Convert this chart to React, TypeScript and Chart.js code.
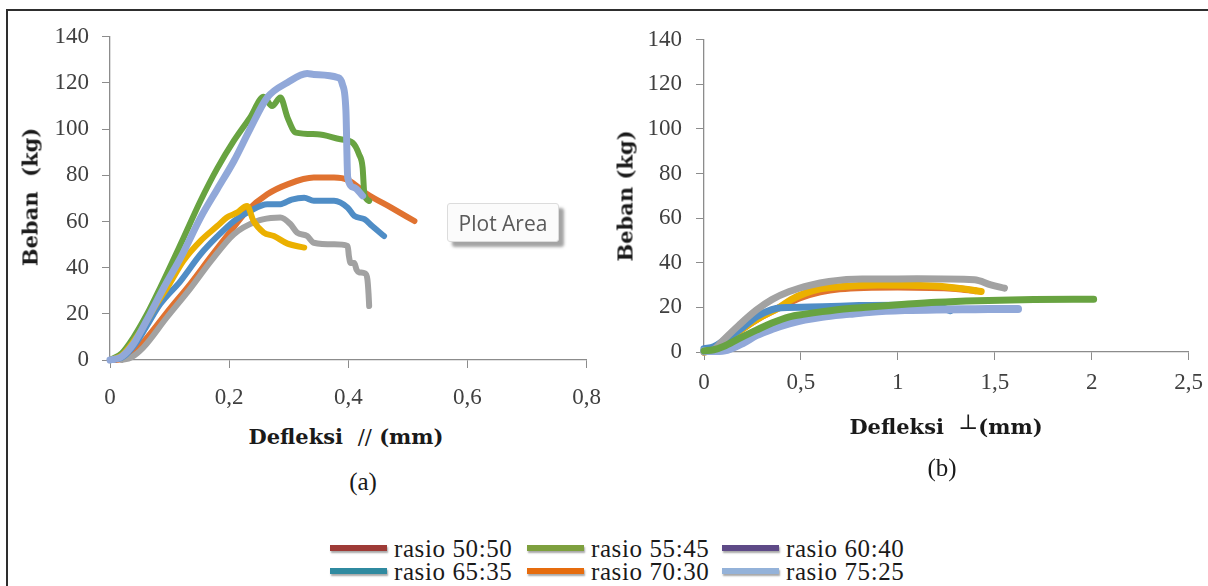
import React, { useEffect, useRef } from "react";
import { Chart, registerables } from "chart.js";
Chart.register(...registerables);

const seriesNames = ["rasio 50:50", "rasio 55:45", "rasio 60:40", "rasio 65:35", "rasio 70:30", "rasio 75:25"];
const lineColors = ["#E07230", "#68A341", "#A2A2A2", "#4F8DC6", "#EBB000", "#91A8D9"];
const legendColors = ["#9E3B37", "#7EA03E", "#5E4A87", "#2F8AA0", "#E66C0E", "#94B2D9"];

const yTicks = [0, 20, 40, 60, 80, 100, 120, 140];
const xTicksA = [0, 0.2, 0.4, 0.6, 0.8];
const xTicksB = [0, 0.5, 1, 1.5, 2, 2.5];

// Panel (a): Defleksi // (mm)
const a5050X = [0.01, 0.03, 0.06, 0.1, 0.135, 0.17, 0.2, 0.23, 0.264, 0.298, 0.342, 0.376, 0.399, 0.432, 0.472, 0.511];
const a5050Y = [0, 1, 9, 22, 33, 45, 55, 64.6, 71.8, 76.1, 79, 79, 78, 71.8, 66, 60.2];
const a5545X = [0, 0.02, 0.039, 0.062, 0.084, 0.12, 0.152, 0.18, 0.208, 0.235, 0.258, 0.272, 0.286, 0.298, 0.312, 0.348, 0.387, 0.407, 0.418, 0.424, 0.427, 0.435];
const a5545Y = [0, 3, 9.6, 19.8, 31.2, 51, 69, 83, 95, 105, 114, 110, 113.7, 105, 98.5, 97.8, 95.6, 94.2, 89.1, 83.3, 71.8, 68.9];
const a6040X = [0.02, 0.035, 0.056, 0.095, 0.135, 0.17, 0.208, 0.247, 0.27, 0.286, 0.303, 0.314, 0.331, 0.342, 0.376, 0.399, 0.401, 0.404, 0.41, 0.414, 0.418, 0.428, 0.432, 0.434, 0.435];
const a6040Y = [0, 1, 5.4, 18.3, 31, 43, 54.5, 60.2, 61.5, 61.7, 58.8, 55.2, 53.7, 50.8, 50.1, 49.4, 45, 42, 42, 39, 38, 37.5, 35, 28.5, 23.4];
const a6535X = [0, 0.02, 0.04, 0.06, 0.084, 0.118, 0.152, 0.18, 0.208, 0.235, 0.264, 0.286, 0.305, 0.326, 0.342, 0.376, 0.399, 0.41, 0.427, 0.44, 0.46];
const a6535Y = [0, 1, 6, 14, 24.1, 34.1, 45.8, 53.5, 60.2, 64.5, 67.5, 67.5, 69.5, 70.3, 69, 69, 66, 62.4, 61, 58, 53.7];
const a7030X = [0, 0.02, 0.05, 0.08, 0.1, 0.123, 0.152, 0.18, 0.196, 0.213, 0.23, 0.241, 0.258, 0.275, 0.298, 0.326];
const a7030Y = [0, 2, 12, 25, 33, 42.9, 51.6, 58, 61.7, 63.8, 66.7, 60.2, 55.2, 53.7, 50.4, 48.7];
const a7525X = [0, 0.01, 0.02, 0.039, 0.067, 0.09, 0.12, 0.152, 0.18, 0.208, 0.235, 0.264, 0.298, 0.331, 0.342, 0.382, 0.39, 0.396, 0.399, 0.41, 0.424];
const a7525Y = [0, 0.5, 1.5, 6.8, 19.8, 31.2, 45, 61.7, 74, 86.2, 100, 113.7, 120.2, 124.1, 123.7, 122.4, 119.5, 107.9, 79, 74.7, 71.1];

// Panel (b): Defleksi ⊥ (mm)
const b5050X = [0, 0.1, 0.2, 0.3, 0.4, 0.5, 0.7, 1.0, 1.3, 1.4];
const b5050Y = [0, 4, 10.5, 16, 20.5, 24.5, 28.3, 29.2, 28.5, 27.5];
const b5545X = [0, 0.05, 0.1, 0.18, 0.27, 0.35, 0.44, 0.52, 0.61, 0.75, 0.866, 1.037, 1.2, 1.41, 1.7, 2.01];
const b5545Y = [0.5, 1, 2.5, 6, 9.8, 13, 15.8, 17, 18.1, 19.5, 20.3, 21.4, 22.3, 23, 23.5, 23.7];
const b6040X = [0, 0.05, 0.099, 0.18, 0.27, 0.35, 0.44, 0.55, 0.645, 0.815, 0.9, 1.1, 1.395, 1.48, 1.55];
const b6040Y = [0, 1, 5.3, 12, 18.8, 23.5, 27.1, 30, 31.6, 32.7, 32.7, 32.8, 32.4, 30.1, 28.6];
const b6535X = [0, 0.05, 0.1, 0.2, 0.27, 0.35, 0.4, 0.61, 0.8, 1.0, 1.2, 1.27];
const b6535Y = [1.5, 2.3, 5, 11, 15.8, 19, 19.8, 20.3, 20.8, 21, 20.5, 18.5];
const b7030X = [0, 0.05, 0.1, 0.2, 0.3, 0.389, 0.45, 0.526, 0.6, 0.696, 0.9, 1.1, 1.24, 1.35, 1.43];
const b7030Y = [0, 1, 4, 10.5, 16, 20, 23.5, 26.5, 28.3, 29.3, 30, 29.8, 29.3, 28.2, 27.1];
const b7525X = [0, 0.06, 0.12, 0.2, 0.27, 0.35, 0.44, 0.52, 0.61, 0.75, 0.866, 1.037, 1.2, 1.4, 1.62];
const b7525Y = [0.5, 0.5, 1, 4, 7.5, 10.3, 12.8, 14.5, 15.8, 17.1, 18.1, 18.8, 19.1, 19.2, 19.3];

const panelA = [[a5050X, a5050Y], [a5545X, a5545Y], [a6040X, a6040Y], [a6535X, a6535Y], [a7030X, a7030Y], [a7525X, a7525Y]];
const panelB = [[b5050X, b5050Y], [b5545X, b5545Y], [b6040X, b6040Y], [b6535X, b6535Y], [b7030X, b7030Y], [b7525X, b7525Y]];
const orderA = [6, 5, 4, 3, 2, 1];
const orderB = [6, 1, 3, 4, 5, 2];

const fmt = (v: any) => String(Math.round(Number(v) * 10) / 10).replace(".", ",");
const AXIS = "#8C8C8C";
const TICKFONT = { family: "'Liberation Serif', serif", size: 23 };

type Geom = { left: number; top: number; w: number; h: number; yw: number; pt: number; pr: number; xh: number; xpad: number; ypad: number; lw: number };

function Panel({ series, order, xTicks, xMax, g }: { series: number[][][]; order: number[]; xTicks: number[]; xMax: number; g: Geom }) {
  const ref = useRef<HTMLCanvasElement>(null);
  useEffect(() => {
    const datasets = series.map((s, i) => ({
      label: seriesNames[i],
      data: s[0].map((x, k) => ({ x, y: s[1][k] })),
      borderColor: lineColors[i],
      backgroundColor: lineColors[i],
      borderWidth: i === 5 ? g.lw + 1 : g.lw,
      showLine: true,
      pointRadius: 0,
      cubicInterpolationMode: "monotone" as const,
      borderCapStyle: "round" as const,
      borderJoinStyle: "round" as const,
      order: order[i],
      clip: 8,
    }));
    const chart = new Chart(ref.current!, {
      type: "scatter",
      data: { datasets },
      options: {
        responsive: false,
        maintainAspectRatio: false,
        animation: false,
        layout: { padding: { top: g.pt, right: g.pr, left: 0, bottom: 0 } },
        plugins: { legend: { display: false }, tooltip: { enabled: false } },
        scales: {
          x: {
            type: "linear",
            min: 0,
            max: xMax,
            afterBuildTicks: (s: any) => { s.ticks = xTicks.map((v) => ({ value: v })); },
            afterFit: (s: any) => { s.height = g.xh; },
            ticks: { font: TICKFONT, color: "#404040", padding: g.xpad, callback: fmt, maxRotation: 0, autoSkip: false },
            grid: { drawOnChartArea: false, drawTicks: true, tickLength: 8, color: AXIS },
            border: { color: AXIS, width: 1.3 },
          },
          y: {
            type: "linear",
            min: 0,
            max: 140,
            afterBuildTicks: (s: any) => { s.ticks = yTicks.map((v) => ({ value: v })); },
            afterFit: (s: any) => { s.width = g.yw; },
            ticks: { font: TICKFONT, color: "#404040", padding: g.ypad, callback: fmt, autoSkip: false },
            grid: { drawOnChartArea: false, drawTicks: true, tickLength: 8, color: AXIS },
            border: { color: AXIS, width: 1.3 },
          },
        },
      },
    });
    return () => chart.destroy();
  }, []);
  return (
    <canvas
      ref={ref}
      width={g.w}
      height={g.h}
      style={{ position: "absolute", left: g.left, top: g.top, width: g.w, height: g.h }}
    />
  );
}

const txt = (cx: number, cy: number, extra: any = {}) => ({
  position: "absolute" as const,
  left: cx,
  top: cy,
  transform: "translate(-50%, -50%)",
  whiteSpace: "pre" as const,
  lineHeight: 1,
  color: "#1a1a1a",
  ...extra,
});

const TITLE = { fontFamily: "'DejaVu Serif', serif", fontWeight: 700, fontSize: 21 };

export default function App() {
  const gA: Geom = { left: 10, top: 10, w: 607, h: 411, yw: 100, pt: 6, pr: 18, xh: 61, xpad: 16, ypad: 13, lw: 6 };
  const gB: Geom = { left: 610, top: 12, w: 602, h: 408, yw: 94, pt: 11, pr: 14, xh: 68, xpad: 9, ypad: 14, lw: 7 };
  const legendCols = [330, 527, 722];
  const legendRows = [548, 571];
  return (
    <div style={{ position: "absolute", left: 0, top: 0, width: 1208, height: 586, overflow: "hidden", background: "#fff" }}>
      <div style={{ position: "absolute", left: 6, top: 9, width: 1400, height: 800, borderTop: "2px solid #2e2e2e", borderLeft: "2px solid #2e2e2e" }} />
      <Panel series={panelA} order={orderA} xTicks={xTicksA} xMax={0.8} g={gA} />
      <Panel series={panelB} order={orderB} xTicks={xTicksB} xMax={2.5} g={gB} />

      <div style={txt(30, 197, { ...TITLE, transform: "translate(-50%, -50%) rotate(-90deg)" })}>{"Beban  (kg)"}</div>
      <div style={txt(346, 437, TITLE)}>
        {"Defleksi  "}<span style={{ fontWeight: 400 }}>{"//"}</span>{" (mm)"}
      </div>
      <div style={txt(363, 481, { fontFamily: "'Liberation Serif', serif", fontSize: 25 })}>(a)</div>

      <div style={txt(625, 196, { ...TITLE, transform: "translate(-50%, -50%) rotate(-90deg)" })}>{"Beban (kg)"}</div>
      <div style={txt(946, 427, TITLE)}>
        {"Defleksi  "}<span style={{ fontWeight: 400, position: "relative", top: -5 }}>{"⊥"}</span>{"(mm)"}
      </div>
      <div style={txt(942, 467, { fontFamily: "'Liberation Serif', serif", fontSize: 25 })}>(b)</div>

      <div
        style={{
          position: "absolute", left: 447, top: 203, width: 112, height: 39, boxSizing: "border-box",
          border: "1px solid #dcdcdc", borderRadius: 3, background: "#fbfbfb",
          boxShadow: "5px 5px 3px rgba(90,90,90,0.55)",
          fontFamily: "'Open Sans', sans-serif", fontSize: 21, color: "#5a5a5a",
          display: "flex", alignItems: "center", justifyContent: "center",
        }}
      >
        Plot Area
      </div>

      {seriesNames.map((name, i) => {
        const col = legendCols[i % 3];
        const row = legendRows[Math.floor(i / 3)];
        return (
          <React.Fragment key={name}>
            <div style={{ position: "absolute", left: col, top: row - 3, width: 57, height: 6, background: legendColors[i], boxShadow: "1px 2px 2px rgba(0,0,0,0.35)" }} />
            <div style={{ position: "absolute", left: col + 64, top: row, transform: "translateY(-50%)", fontFamily: "'Liberation Serif', serif", fontSize: 25, lineHeight: 1, color: "#1a1a1a", whiteSpace: "pre", letterSpacing: 0.6 }}>
              {name}
            </div>
          </React.Fragment>
        );
      })}
    </div>
  );
}
